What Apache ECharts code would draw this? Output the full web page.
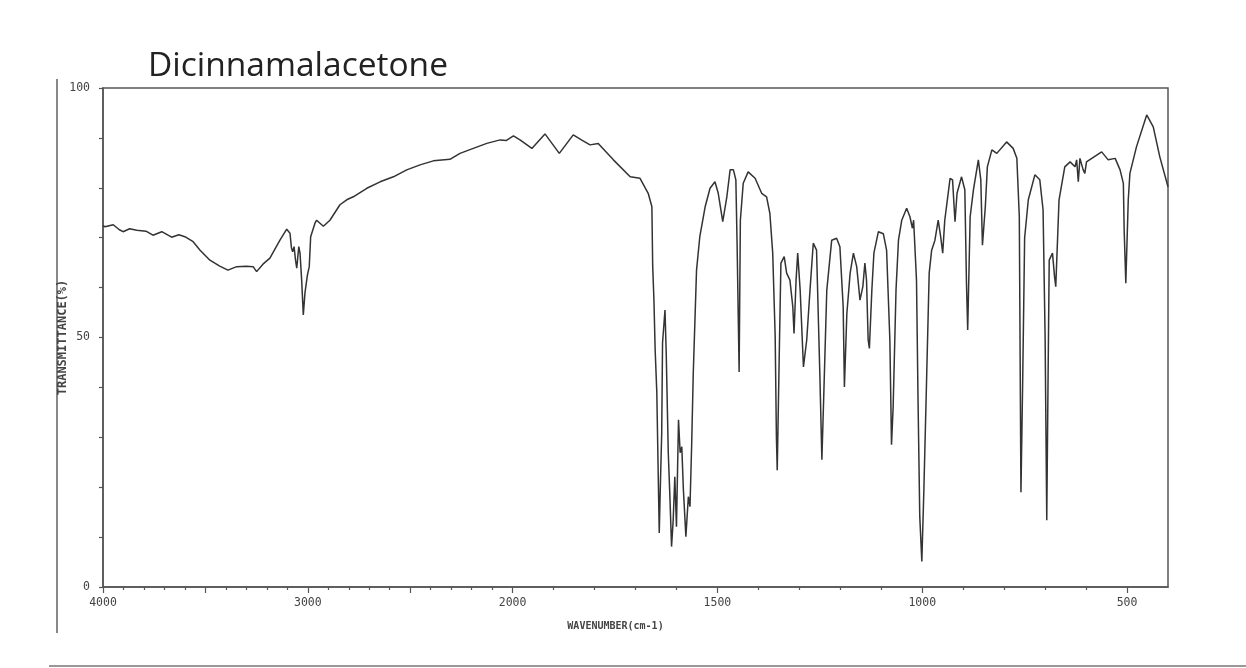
<!DOCTYPE html>
<html>
<head>
<meta charset="utf-8">
<script src="https://cdn.jsdelivr.net/npm/echarts@6/dist/echarts.min.js"></script>
<style>
html,body{margin:0;padding:0;background:#fff;}
#chart{width:1246px;height:668px;}
</style>
</head>
<body>
<div id="chart"></div>
<script>
const chartTitle = 'Dicinnamalacetone';
const xAxisTitle = 'WAVENUMBER(cm-1)';
const yAxisTitle = 'TRANSMITTANCE(%)';

// wavenumber (cm-1), descending
const wavenumbers = [
 4000,3990,3950,3920,3902,3870,3835,3790,3756,3713,3665,3630,3600,3560,3526,3478,3430,3390,3347,3300,
 3267,3250,3219,3185,3136,3103,3087,3080,3074,3067,3060,3054,3044,3038,3030,3022,3014,3002,2993,2986,
 2965,2957,2924,2892,2843,2810,2778,2712,2647,2582,2517,2452,2387,2306,2257,2192,2126,2061,2030,1998,
 1982,1953,1921,1886,1852,1830,1811,1791,1754,1713,1689,1669,1660,1658,1655,1652,1648,1644,1642,1640,
 1636,1634,1628,1625,1620,1616,1612,1608,1604,1600,1595,1591,1587,1583,1577,1571,1567,1563,1559,1551,
 1543,1530,1518,1506,1498,1487,1477,1469,1461,1455,1452,1447,1444,1437,1425,1408,1392,1380,1372,1365,
 1359,1356,1354,1349,1345,1337,1331,1323,1316,1313,1308,1304,1298,1290,1282,1274,1266,1258,1250,1245,
 1240,1233,1221,1209,1201,1193,1190,1184,1176,1168,1160,1156,1152,1145,1140,1136,1132,1129,1123,1118,
 1107,1095,1087,1079,1075,1071,1064,1058,1050,1038,1030,1024,1021,1014,1010,1006,1001,996,989,983,
 977,969,961,955,950,945,932,926,920,915,904,896,892,889,883,875,863,857,853,846,
 841,830,818,794,778,769,763,759,755,750,741,725,713,705,700,696,693,690,682,677,
 674,666,652,639,627,623,619,615,607,603,599,562,546,529,517,509,507,503,497,493,
 477,452,436,420,400
];
// transmittance (%)
const transmittance = [
 72.4,72.2,72.6,71.6,71.2,71.8,71.5,71.3,70.5,71.2,70.1,70.6,70.2,69.2,67.5,65.5,64.3,63.5,64.2,64.3,
 64.2,63.2,64.7,65.9,69.5,71.7,70.9,68.0,67.2,68.2,65.5,63.9,68.2,66.9,61.5,54.5,58.9,62.5,64.2,70.2,
 72.9,73.5,72.3,73.5,76.6,77.6,78.2,79.9,81.2,82.2,83.6,84.6,85.4,85.7,86.9,87.9,88.9,89.6,89.5,90.4,
 89.6,87.9,90.8,86.9,90.6,89.5,88.6,88.9,85.6,82.2,81.9,78.9,76.2,64.2,57.5,47.5,39.1,20.0,10.8,18.1,
 30.9,48.9,55.5,46.9,26.9,18.1,8.1,13.4,22.1,12.1,33.5,26.9,28.1,19.4,10.1,18.1,16.1,28.1,42.8,63.5,
 70.2,76.2,79.9,81.2,78.9,73.2,78.2,83.6,83.6,81.6,68.9,43.1,73.5,80.9,83.2,81.9,78.9,78.2,74.9,66.9,
 50.2,30.1,23.4,46.8,64.9,66.2,62.9,61.5,56.2,50.8,61.5,66.9,59.5,44.1,49.5,59.5,68.9,67.5,42.8,25.5,
 39.5,59.5,69.5,69.9,68.2,56.2,40.1,54.8,62.9,66.9,64.2,60.9,57.5,60.2,64.9,61.5,49.5,47.8,59.5,66.9,
 71.2,70.8,67.5,49.5,28.5,36.1,59.5,69.5,73.5,75.9,74.2,71.9,73.5,61.5,36.1,14.1,5.1,19.4,42.8,62.9,
 67.5,69.5,73.5,70.2,66.9,73.5,81.9,81.6,73.2,78.9,82.2,79.6,60.9,51.5,74.2,79.6,85.6,81.6,68.5,76.2,
 84.2,87.6,86.9,89.2,87.9,85.9,74.2,19.0,40.0,70.0,77.6,82.6,81.6,75.6,50.0,13.4,40.0,65.5,66.9,62.2,
 60.2,77.6,84.2,85.2,84.2,85.6,81.2,85.9,83.6,82.9,85.2,87.2,85.6,85.9,83.6,80.9,71.5,60.9,77.6,82.9,
 88.2,94.6,92.2,86.2,80.2
];

const xTickLabels = [4000, 3000, 2000, 1500, 1000, 500];
const xMajorTicks = [4000, 3500, 3000, 2500, 2000, 1500, 1000, 500];
const xMinorTicks = [3900,3800,3700,3600,3400,3300,3200,3100,2900,2800,2700,2600,2400,2300,2200,2100,
  1900,1800,1700,1600,1400,1300,1200,1100,900,800,700,600];
const yTickLabels = [0, 50, 100];

// IR chart scale: 4000-2000 compressed 2x relative to 2000-400
function toAxis(w) { return w >= 2000 ? (4000 - w) / 2 : 1000 + (2000 - w); }
function fromAxis(v) { return v <= 1000 ? 4000 - 2 * v : 2000 - (v - 1000); }

const seriesData = wavenumbers.map((w, i) => [toAxis(w), transmittance[i]]);

const chart = echarts.init(document.getElementById('chart'), null, {renderer: 'canvas'});
const axisColor = '#555';
const labelFont = {fontFamily: 'DejaVu Sans Mono', fontSize: 11.5, color: '#444'};

chart.setOption({
  animation: false,
  backgroundColor: '#fff',
  title: {
    text: chartTitle,
    left: 143, top: 44,
    textStyle: {fontFamily: 'Open Sans', fontSize: 33.5, fontWeight: 'normal', color: '#222'}
  },
  grid: {left: 103, right: 78, top: 88, bottom: 81, show: true, borderColor: axisColor, borderWidth: 1.5, backgroundColor: 'transparent'},
  xAxis: [{
    type: 'value', min: 0, max: 2600,
    name: xAxisTitle, nameLocation: 'middle', nameGap: 34,
    nameTextStyle: {fontFamily: 'DejaVu Sans Mono', fontSize: 10, color: '#444', fontWeight: 'bold', padding: [0, 40, 0, 0]},
    axisLine: {show: true, lineStyle: {color: axisColor, width: 1.5}},
    axisTick: {show: true, length: 6, customValues: xMajorTicks.map(toAxis), lineStyle: {color: axisColor, width: 1.2}},
    axisLabel: {show: true, margin: 10, customValues: xTickLabels.map(toAxis), formatter: v => String(Math.round(fromAxis(v))), ...labelFont},
    splitLine: {show: false}
  }, {
    type: 'value', min: 0, max: 2600, position: 'bottom',
    axisLine: {show: false},
    axisTick: {show: true, length: 3, customValues: xMinorTicks.map(toAxis), lineStyle: {color: axisColor, width: 1.2}},
    axisLabel: {show: false},
    splitLine: {show: false}
  }],
  yAxis: {
    type: 'value', min: 0, max: 100, interval: 10,
    name: yAxisTitle, nameLocation: 'middle', nameGap: 34, nameRotate: 90, nameMoveOverlap: false,
    nameTextStyle: {fontFamily: 'DejaVu Sans Mono', fontSize: 12, color: '#444', fontWeight: 'bold'},
    axisLine: {show: true, lineStyle: {color: axisColor, width: 1.5}},
    axisTick: {show: true, length: 4, lineStyle: {color: axisColor, width: 1.2}},
    axisLabel: {show: true, margin: 13, formatter: v => yTickLabels.includes(v) ? String(v) : '', ...labelFont},
    splitLine: {show: false}
  },
  series: [{
    type: 'line', xAxisIndex: 0, data: seriesData, showSymbol: false, smooth: false,
    lineStyle: {color: '#333', width: 1.5}
  }],
  graphic: [
    {type: 'line', shape: {x1: 57, y1: 79, x2: 57, y2: 633}, style: {stroke: '#888', lineWidth: 2}},
    {type: 'line', shape: {x1: 49, y1: 666, x2: 1246, y2: 666}, style: {stroke: '#999', lineWidth: 2}}
  ]
});
</script>
</body>
</html>
